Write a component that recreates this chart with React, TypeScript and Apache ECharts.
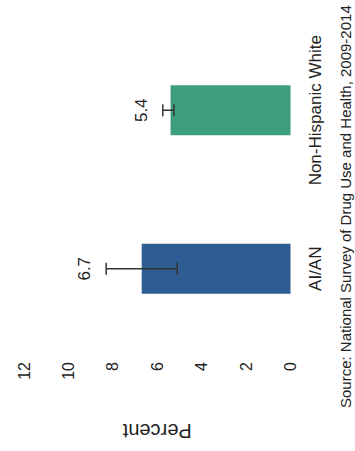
import React, { useEffect, useRef } from "react";
import * as echarts from "echarts";

const categories = ["AI/AN", "Non-Hispanic White"];
const values = [6.7, 5.4];
const errLow = [5.1, 5.25];
const errHigh = [8.3, 5.75];
const barColors = ["#2e5c93", "#3d9d7f"];
const axisMin = 0;
const axisMax = 12;
const axisStep = 2;
const axisTitle = "Percent";
const sourceNote = "Source: National Survey of Drug Use and Health, 2009-2014";

const FONT = "'Liberation Sans', Arial, sans-serif";

export default function App() {
  const ref = useRef<HTMLDivElement>(null);
  useEffect(() => {
    if (!ref.current) return;
    const chart = echarts.init(ref.current, undefined, { renderer: "svg" });
    const errData = categories.map((_, i) => [i, errLow[i], errHigh[i], values[i]]);
    chart.setOption({
      animation: false,
      backgroundColor: "#ffffff",
      grid: { left: 103, right: 31, top: 24, bottom: 64.5 },
      xAxis: {
        type: "category",
        data: categories,
        axisLine: { show: false },
        axisTick: { show: false },
        axisLabel: { color: "#222", fontSize: 17, fontFamily: FONT, margin: 16, interval: 0 },
      },
      yAxis: {
        type: "value",
        min: axisMin,
        max: axisMax,
        interval: axisStep,
        name: axisTitle,
        nameLocation: "middle",
        nameGap: 73,
        nameTextStyle: { color: "#222", fontSize: 20, fontFamily: FONT },
        axisLine: { show: false },
        axisTick: { show: false },
        splitLine: { show: false },
        axisLabel: { color: "#222", fontSize: 16, fontFamily: FONT, margin: 14 },
      },
      series: [
        {
          type: "bar",
          barWidth: 50,
          data: values.map((v, i) => ({ value: v, itemStyle: { color: barColors[i] } })),
        },
        {
          type: "custom",
          data: errData,
          encode: { x: 0, y: [1, 2] },
          z: 5,
          renderItem: (params: any, api: any) => {
            const i = api.value(0);
            const lo = api.coord([i, api.value(1)]);
            const hi = api.coord([i, api.value(2)]);
            const half = 6;
            const st = { stroke: "#333", lineWidth: 1.5 };
            return {
              type: "group",
              children: [
                { type: "line", shape: { x1: lo[0], y1: lo[1], x2: hi[0], y2: hi[1] }, style: st },
                { type: "line", shape: { x1: lo[0] - half, y1: lo[1], x2: lo[0] + half, y2: lo[1] }, style: st },
                { type: "line", shape: { x1: hi[0] - half, y1: hi[1], x2: hi[0] + half, y2: hi[1] }, style: st },
                {
                  type: "text",
                  x: hi[0],
                  y: hi[1] - 13,
                  style: {
                    text: String(api.value(3)),
                    align: "center",
                    verticalAlign: "bottom",
                    fontSize: 17,
                    fontFamily: FONT,
                    fill: "#222",
                  },
                },
              ],
            };
          },
        },
      ],
      graphic: [
        {
          type: "text",
          left: 43,
          top: 338,
          style: { text: sourceNote, fontSize: 15, fontFamily: FONT, fill: "#222" },
        },
      ],
    });
    return () => chart.dispose();
  }, []);
  return (
    <div
      style={{
        position: "absolute",
        left: 0,
        top: 0,
        width: 451,
        height: 355,
        transformOrigin: "0 0",
        transform: "translate(0px, 451px) rotate(-90deg)",
        background: "#fff",
      }}
    >
      <div ref={ref} style={{ width: 451, height: 355 }} />
    </div>
  );
}
